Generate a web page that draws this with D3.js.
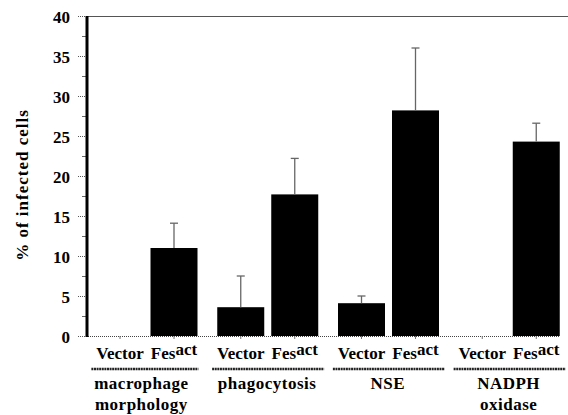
<!DOCTYPE html>
<html>
<head>
<meta charset="utf-8">
<script src="https://cdn.jsdelivr.net/npm/d3@7"></script>
<style>
  body { margin: 0; background: #fff; }
  svg text { font-family: "Liberation Serif", "Times New Roman", serif; font-weight: bold; }
</style>
</head>
<body>
<div id="chart"></div>
<script>
// groups along the x axis (label lines)
var groups = [["macrophage", "morphology"], ["phagocytosis"], ["NSE"], ["NADPH", "oxidase"]]
var groupKeys = ["macro", "phago", "nse", "nadph"]
var subs = ["Vector", "Fes"]

// bar heights (% of infected cells) and top of the error bar
var vectorValues = [0, 3.6, 4.1, 0]
var vectorErrTop = [null, 7.5, 5.0, null]
var fesValues = [11.0, 17.7, 28.2, 24.3]
var fesErrTop = [14.1, 22.2, 36.0, 26.6]

var yTicks = [0, 5, 10, 15, 20, 25, 30, 35, 40]

var data = []
groupKeys.forEach(function(g, i) {
  data.push({group: g, sub: "Vector", value: vectorValues[i], err: vectorErrTop[i]})
  data.push({group: g, sub: "Fes", value: fesValues[i], err: fesErrTop[i]})
})

var W = 568, H = 415
var margin = {top: 16, right: 0, bottom: 79, left: 87}
var width = W - margin.left - margin.right,
    height = H - margin.top - margin.bottom

var serif = "'Liberation Serif', 'Times New Roman', serif"

var svg = d3.select("#chart")
  .append("svg")
    .attr("width", W)
    .attr("height", H)
    .attr("font-family", serif)
  .append("g")
    .attr("transform", "translate(" + margin.left + "," + margin.top + ")")

var x0 = d3.scaleBand()
    .domain(groupKeys)
    .range([0, width + 2])
    .padding(0)

var x1 = d3.scalePoint()
    .domain(subs)
    .range([33, 87])

var barW = 47

var y = d3.scaleLinear()
    .domain([0, 40])
    .range([height, 0])

// top frame line
svg.append("line")
  .attr("x1", 0).attr("x2", W - margin.left)
  .attr("y1", y(40) + 0.5).attr("y2", y(40) + 0.5)
  .attr("stroke", "#555").attr("stroke-width", 1)

// bars
svg.selectAll("rect.bar")
  .data(data.filter(function(d) { return d.value > 0 }))
  .enter()
  .append("rect")
    .attr("class", "bar")
    .attr("x", function(d) { return x0(d.group) + x1(d.sub) - barW / 2 })
    .attr("y", function(d) { return y(d.value) })
    .attr("width", barW)
    .attr("height", function(d) { return height - y(d.value) })
    .attr("fill", "#000")

// error bars (upper only)
var eb = svg.selectAll("g.err")
  .data(data.filter(function(d) { return d.err != null }))
  .enter()
  .append("g")
    .attr("class", "err")
    .attr("transform", function(d) { return "translate(" + (x0(d.group) + x1(d.sub)) + ",0)" })
eb.append("line")
  .attr("y1", function(d) { return y(d.value) })
  .attr("y2", function(d) { return y(d.err) })
  .attr("stroke", "#666").attr("stroke-width", 1.3)
eb.append("line")
  .attr("x1", -4).attr("x2", 4)
  .attr("y1", function(d) { return y(d.err) })
  .attr("y2", function(d) { return y(d.err) })
  .attr("stroke", "#666").attr("stroke-width", 1.3)

// baseline (dotted) and small ticks under bars
svg.append("line")
  .attr("x1", -9).attr("x2", width - 8)
  .attr("y1", height + 0.5).attr("y2", height + 0.5)
  .attr("stroke", "#444").attr("stroke-width", 1)
  .attr("stroke-dasharray", "1,1")
svg.selectAll("line.xtick")
  .data(data)
  .enter()
  .append("line")
    .attr("class", "xtick")
    .attr("x1", function(d) { return x0(d.group) + x1(d.sub) })
    .attr("x2", function(d) { return x0(d.group) + x1(d.sub) })
    .attr("y1", height).attr("y2", height + 3)
    .attr("stroke", "#777")

// Y axis
var yAxis = svg.append("g")
  .call(d3.axisLeft(y).tickValues(yTicks).tickSize(9).tickPadding(8))
yAxis.attr("font-family", serif)
yAxis.select(".domain").remove()
yAxis.selectAll(".tick line").attr("stroke", "#555").attr("stroke-dasharray", "1,1")
yAxis.selectAll("text")
  .style("font-size", "17px")
  .attr("fill", "#000")
  .attr("dy", "0.36em")

// minor ticks
svg.selectAll("line.minor")
  .data(d3.range(2.5, 40, 5))
  .enter()
  .append("line")
    .attr("class", "minor")
    .attr("x1", -5).attr("x2", 0)
    .attr("y1", function(d) { return y(d) + 0.5 })
    .attr("y2", function(d) { return y(d) + 0.5 })
    .attr("stroke", "#666")

svg.append("line")
  .attr("x1", 0).attr("x2", 0)
  .attr("y1", y(40)).attr("y2", height + 1)
  .attr("stroke", "#000").attr("stroke-width", 3)

// Y title
svg.append("text")
  .attr("transform", "translate(" + (-59) + "," + (169) + ")rotate(-90)")
  .attr("text-anchor", "middle")
  .style("font-size", "17px")
  .style("letter-spacing", "1px")
  .text("% of infected cells")

// category labels
var cat = svg.selectAll("text.cat")
  .data(data)
  .enter()
  .append("text")
    .attr("class", "cat")
    .attr("x", function(d) { return x0(d.group) + x1(d.sub) })
    .attr("y", height + 23)
    .attr("text-anchor", "middle")
    .style("font-size", "17px")
cat.filter(function(d) { return d.sub == "Vector" }).text("Vector")
var fes = cat.filter(function(d) { return d.sub == "Fes" })
fes.append("tspan").text("Fes")
fes.append("tspan").attr("dy", -4).text("act")

// group underlines and labels
var mid = x0.bandwidth() / 2
var gl = svg.selectAll("g.grp")
  .data(groupKeys)
  .enter()
  .append("g")
    .attr("class", "grp")
    .attr("transform", function(d) { return "translate(" + x0(d) + "," + (height + 33) + ")" })
gl.append("line")
  .attr("x1", function(d, i) { return Math.max(mid - 56, i == 0 ? 0 : -99) })
  .attr("x2", function(d, i) { return mid + (i == 0 ? 51 : 56) })
  .attr("stroke", "#222").attr("stroke-width", 2.5)
  .attr("stroke-dasharray", "2,0.6")
gl.each(function(d, i) {
  var g = d3.select(this)
  groups[i].forEach(function(s, j) {
    g.append("text")
      .attr("x", mid - (i == 0 ? 6 : 1))
      .attr("y", 20 + j * 21)
      .attr("text-anchor", "middle")
      .style("font-size", "17px")
      .style("letter-spacing", "0.5px")
      .text(s)
  })
})
</script>
</body>
</html>
